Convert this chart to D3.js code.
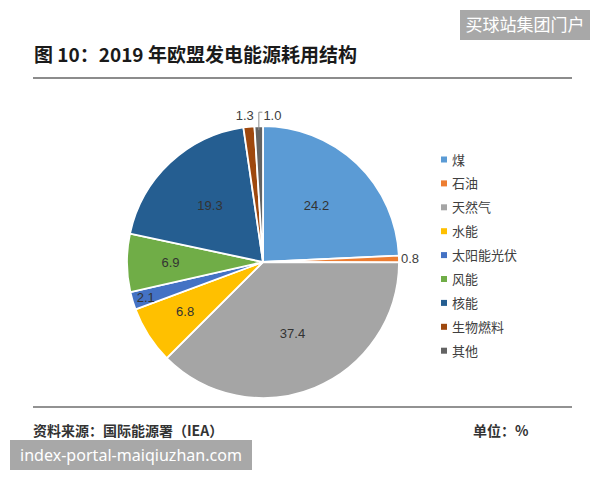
<!DOCTYPE html>
<html>
<head>
<meta charset="utf-8">
<script src="https://cdn.jsdelivr.net/npm/d3@7"></script>
<style>
  body { margin: 0; background: #fff; }
  svg { display: block; }
</style>
</head>
<body>
<svg id="chart"></svg>
<script>
// 2019 EU power generation mix (%)
const categories = ['煤', '石油', '天然气', '水能', '太阳能光伏', '风能', '核能', '生物燃料', '其他']
const values = [24.2, 0.8, 37.4, 6.8, 2.1, 6.9, 19.3, 1.3, 1.0]
const colorList = ['#5b9bd5', '#ed7d31', '#a5a5a5', '#ffc000', '#4472c4', '#70ad47', '#255e91', '#9e480e', '#636363']

const titleText = '图 10：2019 年欧盟发电能源耗用结构'
const sourceText = '资料来源：国际能源署（IEA）'
const unitText = '单位：%'

const W = 600, H = 480
const cjk = '"Noto Sans CJK SC", "Noto Sans", sans-serif'
const num = '"Liberation Sans", "DejaVu Sans", sans-serif'

const svg = d3.select('#chart').attr('width', W).attr('height', H)

// header
svg.append('text')
  .attr('x', 34).attr('y', 62)
  .style('font-family', cjk).style('font-size', '19px').style('font-weight', 'bold')
  .attr('fill', '#1a1a1a')
  .text(titleText)

svg.append('line')
  .attr('x1', 33).attr('x2', 572).attr('y1', 78).attr('y2', 78)
  .attr('stroke', '#8c8c8c').attr('stroke-width', 2)

// pie
const data = categories.map((c, i) => ({ name: c, value: values[i] }))
const cx = 263, cy = 262, r = 136

const color = d3.scaleOrdinal().domain(categories).range(colorList)
const pie = d3.pie().value(d => d.value).sort(null)
const arcs = pie(data)
const arc = d3.arc().innerRadius(0).outerRadius(r)

const g = svg.append('g').attr('transform', `translate(${cx},${cy})`)

g.selectAll('path')
  .data(arcs)
  .join('path')
    .attr('d', arc)
    .attr('fill', d => color(d.data.name))
    .attr('stroke', '#fff')
    .attr('stroke-width', 1.8)
    .attr('stroke-linejoin', 'round')

// label radius depends on slice size, like excel "best fit"
function labelRadius(v) {
  if (v > 15) return r * 0.57
  if (v > 5) return r * 0.68
  if (v >= 2) return r * 0.9
  return r * 1.08
}

const inside = arcs.filter(d => d.data.value >= 2)
const outside = arcs.filter(d => d.data.value < 2)

g.selectAll('text.in')
  .data(inside)
  .join('text')
    .attr('class', 'in')
    .attr('transform', d => {
      const lr = labelRadius(d.data.value)
      const c = d3.arc().innerRadius(lr).outerRadius(lr).centroid(d)
      return `translate(${c})`
    })
    .attr('text-anchor', 'middle')
    .attr('dy', '0.35em')
    .style('font-family', num).style('font-size', '13px')
    .attr('fill', '#333')
    .text(d => d.data.value.toFixed(1))

// outside labels, with a leader when two of them collide
let prev = null
outside.forEach(d => {
  const lr = labelRadius(d.data.value)
  const mid = (d.startAngle + d.endAngle) / 2
  let x = lr * Math.sin(mid), y = -lr * Math.cos(mid)
  let anchor = 'middle'
  if (Math.abs(Math.sin(mid)) > 0.7) {
    anchor = Math.sin(mid) > 0 ? 'start' : 'end'
    x = (r + 2) * Math.sin(mid)
  }
  const t = g.append('text')
    .attr('x', x).attr('y', y)
    .attr('text-anchor', anchor)
    .attr('dy', '0.35em')
    .style('font-family', num).style('font-size', '13px')
    .attr('fill', '#404040')
    .text(d.data.value.toFixed(1))
  if (prev && prev.anchor === 'middle' && anchor === 'middle' && Math.abs(prev.x - x) < 24) {
    // move right and draw a small elbow line
    const px = (r - 4) * Math.sin(mid), py = -(r - 4) * Math.cos(mid)
    const ly = y - 3
    t.attr('x', x + 5).attr('text-anchor', 'start')
    g.append('polyline')
      .attr('points', [[px, py], [px, ly], [x + 4, ly]].map(p => p.join(',')).join(' '))
      .attr('fill', 'none').attr('stroke', '#8c8c8c').attr('stroke-width', 1)
    prev.el.attr('x', prev.x - 3)
  }
  prev = { x, anchor, el: t }
})

// legend
const legend = svg.append('g').attr('transform', 'translate(441,160)')
const row = legend.selectAll('g')
  .data(categories)
  .join('g')
    .attr('transform', (d, i) => `translate(0,${i * 23.9})`)
row.append('rect')
  .attr('x', 0).attr('y', -3.5).attr('width', 6).attr('height', 6)
  .attr('fill', d => color(d))
row.append('text')
  .attr('x', 11).attr('dy', '0.35em')
  .style('font-family', cjk).style('font-size', '13px')
  .attr('fill', '#404040')
  .text(d => d)

// footer
svg.append('line')
  .attr('x1', 33).attr('x2', 572).attr('y1', 407).attr('y2', 407)
  .attr('stroke', '#6e6e6e').attr('stroke-width', 1.5)

svg.append('text')
  .attr('x', 33).attr('y', 436)
  .style('font-family', cjk).style('font-size', '14px').style('font-weight', 'bold')
  .attr('fill', '#333')
  .text(sourceText)

svg.append('text')
  .attr('x', 473).attr('y', 436)
  .style('font-family', cjk).style('font-size', '14px').style('font-weight', 'bold')
  .attr('fill', '#333')
  .text(unitText)

// site stamps
svg.append('rect').attr('x', 460).attr('y', 10).attr('width', 130).attr('height', 30).attr('fill', '#a8a8a8')
svg.append('text')
  .attr('x', 525).attr('y', 25).attr('text-anchor', 'middle').attr('dy', '0.35em')
  .style('font-family', cjk).style('font-size', '17px')
  .attr('fill', '#fff')
  .text('买球站集团门户')

svg.append('rect').attr('x', 10).attr('y', 440).attr('width', 242).attr('height', 30).attr('fill', '#a8a8a8')
svg.append('text')
  .attr('x', 20).attr('y', 455).attr('dy', '0.35em')
  .attr('textLength', 222).attr('lengthAdjust', 'spacingAndGlyphs')
  .style('font-family', '"Noto Sans", sans-serif').style('font-size', '17px')
  .attr('fill', '#fff')
  .text('index-portal-maiqiuzhan.com')
</script>
</body>
</html>
